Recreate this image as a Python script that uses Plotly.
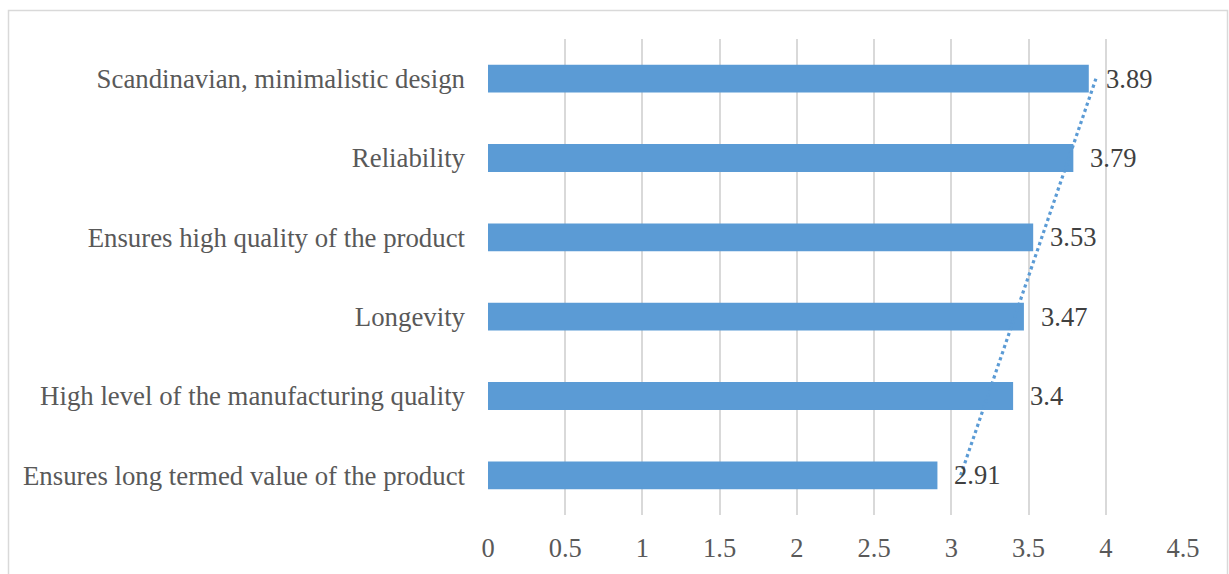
import numpy as np
import plotly.graph_objects as go

# Attributes, listed from the bottom row upwards
attributes = [
    "Ensures long termed value of the product",
    "High level of the manufacturing quality",
    "Longevity",
    "Ensures high quality of the product",
    "Reliability",
    "Scandinavian, minimalistic design",
]
scores = [2.91, 3.4, 3.47, 3.53, 3.79, 3.89]
x_ticks = [0, 0.5, 1, 1.5, 2, 2.5, 3, 3.5, 4, 4.5]

BLUE = "#5B9BD5"
FONT = "Liberation Serif, Times New Roman, serif"

# Linear trend across the category positions (1..n)
idx = np.arange(1, len(scores) + 1)
slope, intercept = np.polyfit(idx, scores, 1)
trend = slope * idx + intercept

fig = go.Figure()
fig.add_trace(go.Bar(
    x=scores, y=attributes, orientation="h",
    marker=dict(color=BLUE, line=dict(width=0)),
    width=0.35, showlegend=False, hoverinfo="x+y",
))
fig.add_trace(go.Scatter(
    x=[trend[0], trend[-1]], y=[attributes[0], attributes[-1]],
    mode="lines", line=dict(color=BLUE, width=3.2, dash="dot"),
    showlegend=False, hoverinfo="skip",
))

# Value labels to the right of each bar
for a, v in zip(attributes, scores):
    fig.add_annotation(
        x=v, y=a, text=f"{v:g}", showarrow=False,
        xanchor="left", yanchor="middle", xshift=15,
        font=dict(family=FONT, size=26.5, color="#404040"),
    )

W, H = 1229, 574
L, R, T, B = 488, 46, 39, 59
pw, ph = W - L - R, H - T - B

def px_x(p):
    return (p - L) / pw

def px_y(p):
    return (H - B - p) / ph

# Chart-area frame
fig.add_shape(
    type="rect", xref="paper", yref="paper",
    x0=px_x(8.5), x1=px_x(1227.5), y0=px_y(590), y1=px_y(10.5),
    line=dict(color="#D9D9D9", width=1.5), fillcolor="rgba(0,0,0,0)", layer="below",
)

fig.update_layout(
    width=W, height=H,
    margin=dict(l=L, r=R, t=T, b=B, pad=0),
    paper_bgcolor="white", plot_bgcolor="white",
    font=dict(family=FONT, size=26, color="#595959"),
    xaxis=dict(
        range=[0, 4.5], tickvals=x_ticks, ticktext=[f"{t:g}" for t in x_ticks],
        showgrid=True, gridcolor="#D9D9D9", gridwidth=1.8,
        zeroline=False, showline=False, ticks="",
        ticklabelstandoff=14, fixedrange=True,
        tickfont=dict(family=FONT, size=26.5, color="#595959"),
    ),
    yaxis=dict(
        categoryorder="array", categoryarray=attributes,
        showgrid=False, zeroline=False, showline=False, ticks="",
        ticklabelstandoff=22, fixedrange=True,
        tickfont=dict(family=FONT, size=26.8, color="#595959"),
    ),
)

fig.write_html("out.html")
